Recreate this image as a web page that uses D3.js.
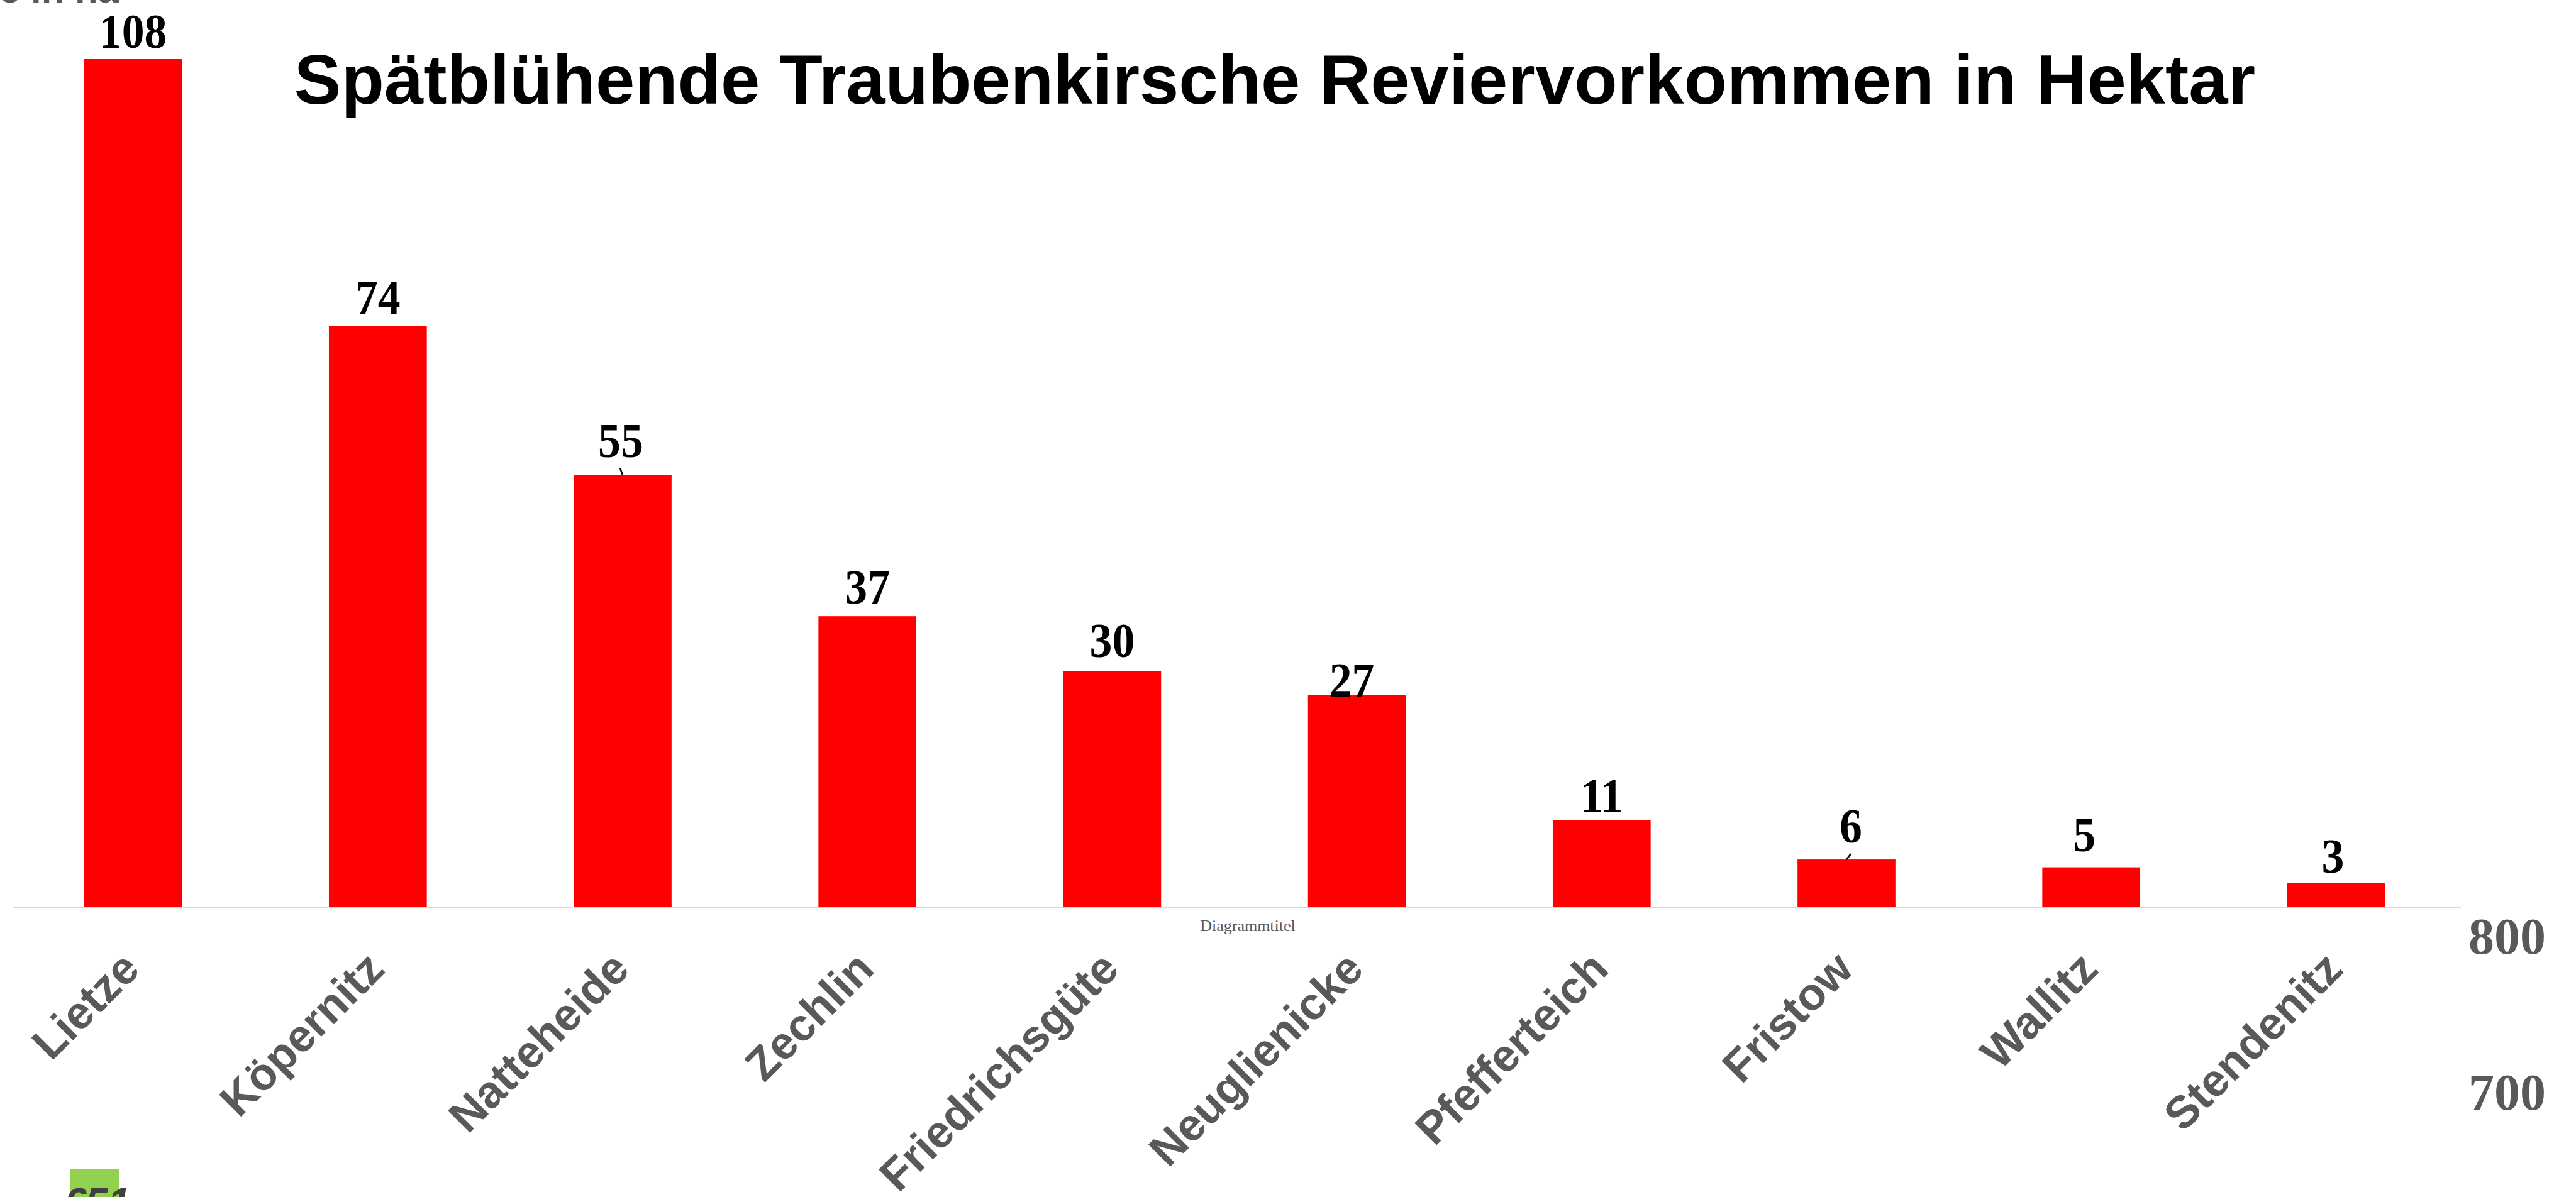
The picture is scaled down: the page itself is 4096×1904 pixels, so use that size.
<!DOCTYPE html>
<html>
<head>
<meta charset="utf-8">
<script src="https://cdn.jsdelivr.net/npm/d3@7"></script>
<style>
  html, body { margin: 0; padding: 0; background: #fff; overflow: hidden; }
</style>
</head>
<body>
<div id="chart"></div>
<script>
// Reviere und Flächen (ha)
const reviere = ["Lietze", "Köpernitz", "Natteheide", "Zechlin", "Friedrichsgüte",
                 "Neuglienicke", "Pfefferteich", "Fristow", "Wallitz", "Stendenitz"];
const hektar = [108, 74, 55, 37, 30, 27, 11, 6, 5, 3];
// leftover right-hand axis labels
const rightTicks = [800, 700];

const W = 4096, H = 1904;

const svg = d3.select("#chart")
    .append("svg")
    .attr("width", W)
    .attr("height", H);

const x = d3.scaleBand()
    .domain(reviere)
    .range([17, 3909])
    .paddingInner(0.6)
    .paddingOuter(0.3);

const y = d3.scaleLinear()
    .domain([0, 108])
    .range([1442, 94]);

// label nudges, as placed in the original
const labelDy = [-18, -19, -29, -20, -23, 3, -13, -27, -26, -17];
const labelDx = [0, 0, -3, 0, 0, -8, 0, 7, -11, -5];

// baseline
svg.append("line")
    .attr("x1", 21).attr("x2", 3913)
    .attr("y1", y(0) + 1.5).attr("y2", y(0) + 1.5)
    .attr("stroke", "#d9d9d9")
    .attr("stroke-width", 3);

svg.selectAll("rect.bar")
    .data(hektar)
    .join("rect")
    .attr("class", "bar")
    .attr("x", (d, i) => x(reviere[i]))
    .attr("y", d => y(d))
    .attr("width", x.bandwidth())
    .attr("height", d => y(0) - y(d))
    .attr("fill", "#ff0000");

// value labels (slightly condensed like the original)
svg.selectAll("text.val")
    .data(hektar)
    .join("text")
    .attr("class", "val")
    .attr("transform", (d, i) =>
        `translate(${x(reviere[i]) + x.bandwidth() / 2 + labelDx[i]},${y(d) + labelDy[i]}) scale(0.92,1)`)
    .attr("text-anchor", "middle")
    .style("font-family", "'Liberation Serif', 'Times New Roman', serif")
    .style("font-weight", "bold")
    .style("font-size", "78px")
    .attr("fill", "#000")
    .text(d => d);

// leader lines for 55 and 6
[[2, -4, -11], [7, 7, -9]].forEach(([i, dx, len]) => {
    const cx = x(reviere[i]) + x.bandwidth() / 2;
    svg.append("line")
        .attr("x1", cx).attr("y1", y(hektar[i]))
        .attr("x2", cx + dx).attr("y2", y(hektar[i]) + len)
        .attr("stroke", "#000").attr("stroke-width", 2.5);
});

// category axis
const xAxis = svg.append("g")
    .attr("transform", `translate(0,${y(0)})`)
    .call(d3.axisBottom(x).tickSize(0).tickPadding(0));
xAxis.select(".domain").remove();
xAxis.selectAll("text")
    .attr("transform", "translate(14,103) rotate(-45)")
    .attr("dy", 0)
    .attr("text-anchor", "end")
    .style("font-family", "Arial, 'Liberation Sans', sans-serif")
    .style("font-weight", "bold")
    .style("font-size", "72px")
    .attr("fill", "#595959");

// title
svg.append("text")
    .attr("x", 2027).attr("y", 165)
    .attr("text-anchor", "middle")
    .style("font-family", "Arial, 'Liberation Sans', sans-serif")
    .style("font-weight", "bold")
    .style("font-size", "112px")
    .attr("fill", "#000")
    .text("Spätblühende Traubenkirsche Reviervorkommen in Hektar");

// cut-off axis title at top left
svg.append("text")
    .attr("x", 189).attr("y", 4)
    .attr("text-anchor", "end")
    .style("font-family", "Arial, 'Liberation Sans', sans-serif")
    .style("font-weight", "bold")
    .style("font-size", "60px")
    .attr("fill", "#595959")
    .text("Fläche in ha");

// small stray placeholder title
svg.append("text")
    .attr("x", 1984).attr("y", 1481)
    .attr("text-anchor", "middle")
    .style("font-family", "'Liberation Serif', 'Times New Roman', serif")
    .style("font-size", "26px")
    .attr("fill", "#595959")
    .text("Diagrammtitel");

// stray right axis labels
const yr = d3.scaleLinear().domain([800, 700]).range([1489, 1737]);
svg.selectAll("text.rt")
    .data(rightTicks)
    .join("text")
    .attr("class", "rt")
    .attr("x", 4048)
    .attr("y", d => yr(d) + 28)
    .attr("text-anchor", "end")
    .style("font-family", "'Liberation Serif', 'Times New Roman', serif")
    .style("font-weight", "bold")
    .style("font-size", "82px")
    .attr("fill", "#595959")
    .text(d => d);

// green marker at bottom left
svg.append("rect")
    .attr("x", 112).attr("y", 1859)
    .attr("width", 78).attr("height", 50)
    .attr("fill", "#92d050");
svg.append("text")
    .attr("x", 100).attr("y", 1935)
    .style("font-family", "Arial, 'Liberation Sans', sans-serif")
    .style("font-weight", "bold")
    .style("font-style", "italic")
    .style("font-size", "64px")
    .attr("fill", "#404040")
    .text("€51");
</script>
</body>
</html>
